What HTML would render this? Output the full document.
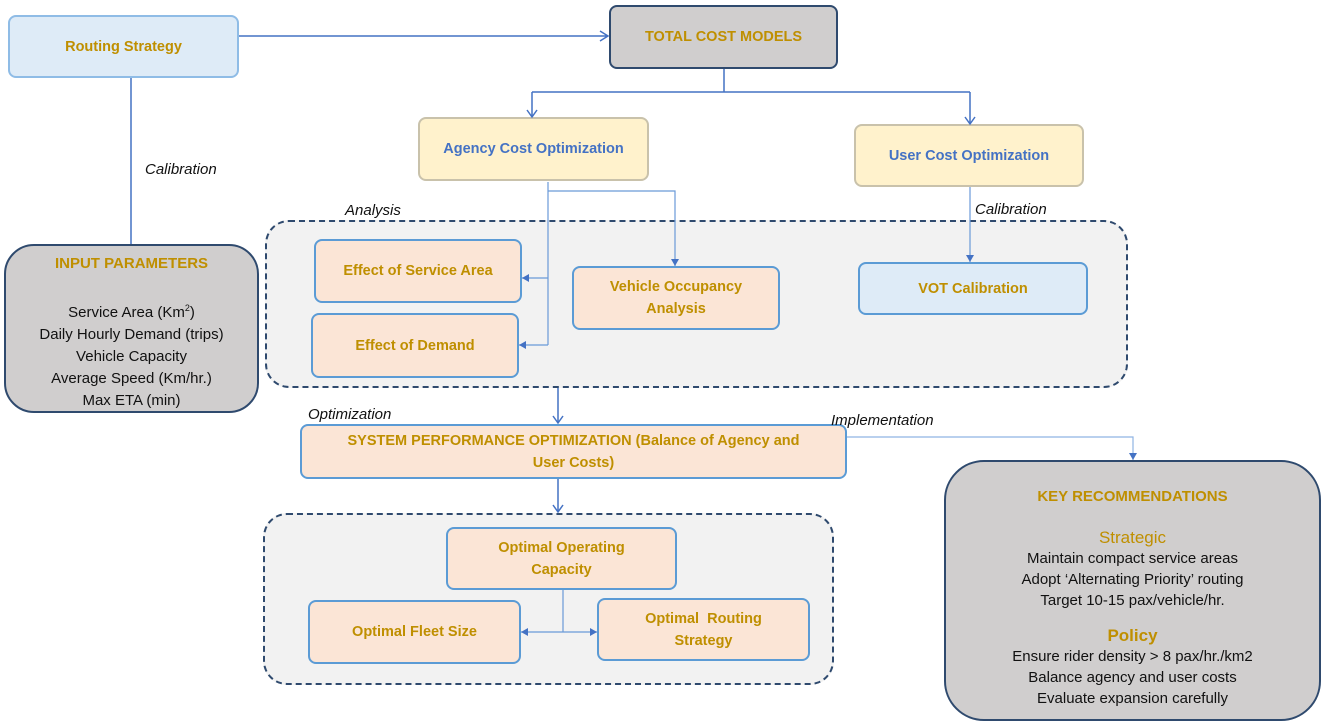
<!DOCTYPE html>
<html><head><meta charset="utf-8"><style>
body{margin:0;width:1325px;height:726px;background:#fff;position:relative;overflow:hidden;font-family:"Liberation Sans",sans-serif}
.b{position:absolute;box-sizing:border-box;display:flex;align-items:center;justify-content:center;text-align:center;font-weight:bold;color:#bf8f00;font-size:14.5px;line-height:22px}
.peach{background:#fbe5d6;border:2px solid #5b9bd5;border-radius:8px}
.blue{background:#deebf7;border:2px solid #9dc3e6;border-radius:8px}
.yel{background:#fff2cc;border:2px solid #c9c2ab;border-radius:8px;color:#4472c4}
.gray{background:#d0cece;border:2px solid #2f4a6e}
.dash{position:absolute;box-sizing:border-box;background:#f2f2f2;border:2px dashed #2f4a6e;border-radius:24px}
.l{position:absolute;font-style:italic;font-size:15px;color:#111}
svg{position:absolute;left:0;top:0}
</style></head><body>
<div class="dash" style="left:265px;top:220px;width:863px;height:168px"></div>
<div class="dash" style="left:263px;top:513px;width:571px;height:172px"></div>

<div class="b blue" style="left:8px;top:15px;width:231px;height:63px;border-color:#8fbce6">Routing Strategy</div>
<div class="b gray" style="left:609px;top:5px;width:229px;height:64px;border-radius:8px">TOTAL COST MODELS</div>
<div class="b gray" style="left:4px;top:244px;width:255px;height:169px;border-radius:30px;flex-direction:column;justify-content:flex-start;padding-top:7px;font-weight:normal;color:#111;font-size:15px">
<div style="color:#bf8f00;font-weight:bold;margin-bottom:22px">INPUT PARAMETERS</div>
<div>Service Area (Km<sup style="font-size:9px">2</sup>)</div><div>Daily Hourly Demand (trips)</div><div>Vehicle Capacity</div><div>Average Speed (Km/hr.)</div><div>Max ETA (min)</div></div>

<div class="b yel" style="left:418px;top:117px;width:231px;height:64px">Agency Cost Optimization</div>
<div class="b yel" style="left:854px;top:124px;width:230px;height:63px">User Cost Optimization</div>

<div class="b peach" style="left:314px;top:239px;width:208px;height:64px">Effect of Service Area</div>
<div class="b peach" style="left:311px;top:313px;width:208px;height:65px">Effect of Demand</div>
<div class="b peach" style="left:572px;top:266px;width:208px;height:64px">Vehicle Occupancy<br>Analysis</div>
<div class="b blue" style="left:858px;top:262px;width:230px;height:53px;border-color:#5b9bd5">VOT Calibration</div>

<div class="b peach" style="left:300px;top:424px;width:547px;height:55px">SYSTEM PERFORMANCE OPTIMIZATION (Balance of Agency and<br>User Costs)</div>

<div class="b peach" style="left:446px;top:527px;width:231px;height:63px">Optimal Operating<br>Capacity</div>
<div class="b peach" style="left:308px;top:600px;width:213px;height:64px">Optimal Fleet Size</div>
<div class="b peach" style="left:597px;top:598px;width:213px;height:63px">Optimal&nbsp; Routing<br>Strategy</div>

<div class="b gray" style="left:944px;top:460px;width:377px;height:261px;border-radius:40px;flex-direction:column;justify-content:flex-start;padding-top:24px;font-weight:normal;color:#111;font-size:15px;line-height:21px">
<div style="color:#bf8f00;font-weight:bold;margin-bottom:20px">KEY RECOMMENDATIONS</div>
<div style="color:#bf8f00;font-size:17px">Strategic</div>
<div>Maintain compact service areas</div><div>Adopt ‘Alternating Priority’ routing</div><div>Target 10-15 pax/vehicle/hr.</div>
<div style="color:#bf8f00;font-weight:bold;font-size:17px;margin-top:14px">Policy</div>
<div>Ensure rider density &gt; 8 pax/hr./km2</div><div>Balance agency and user costs</div><div>Evaluate expansion carefully</div></div>

<div class="l" style="left:145px;top:161px">Calibration</div>
<div class="l" style="left:345px;top:202px">Analysis</div>
<div class="l" style="left:975px;top:201px">Calibration</div>
<div class="l" style="left:308px;top:406px">Optimization</div>
<div class="l" style="left:831px;top:412px">Implementation</div>

<svg width="1325" height="726" fill="none" stroke="#4472c4" stroke-width="1.5">
<path d="M239 36H608M600 31l8 5-8 5"/>
<path d="M131 78V244"/>
<path d="M724 69V92M532 92H970M532 92V117M970 92V124M527 110l5 7 5-7M965 117l5 7 5-7"/>
<path d="M548 182V345M548 278H522M548 345H519M548 191H675V266" stroke="#6a9ad8" stroke-width="1.2"/>
<path d="M522 278l7-4v8zM519 345l7-4v8zM675 266l-4-7h8z" fill="#4472c4" stroke="none"/>
<path d="M970 187V262" stroke="#6a9ad8" stroke-width="1.2"/><path d="M970 262l-4-7h8z" fill="#4472c4" stroke="none"/>
<path d="M558 388V423M553 416l5 7 5-7"/>
<path d="M847 437H1133V460" stroke="#8fb4e3" stroke-width="1.2"/><path d="M1133 460l-4-7h8z" fill="#4472c4" stroke="none"/>
<path d="M558 479V512M553 505l5 7 5-7"/>
<path d="M563 590V632M521 632H597" stroke="#6a9ad8" stroke-width="1.2"/>
<path d="M521 632l7-4v8zM597 632l-7-4v8z" fill="#4472c4" stroke="none"/>
</svg>
</body></html>
